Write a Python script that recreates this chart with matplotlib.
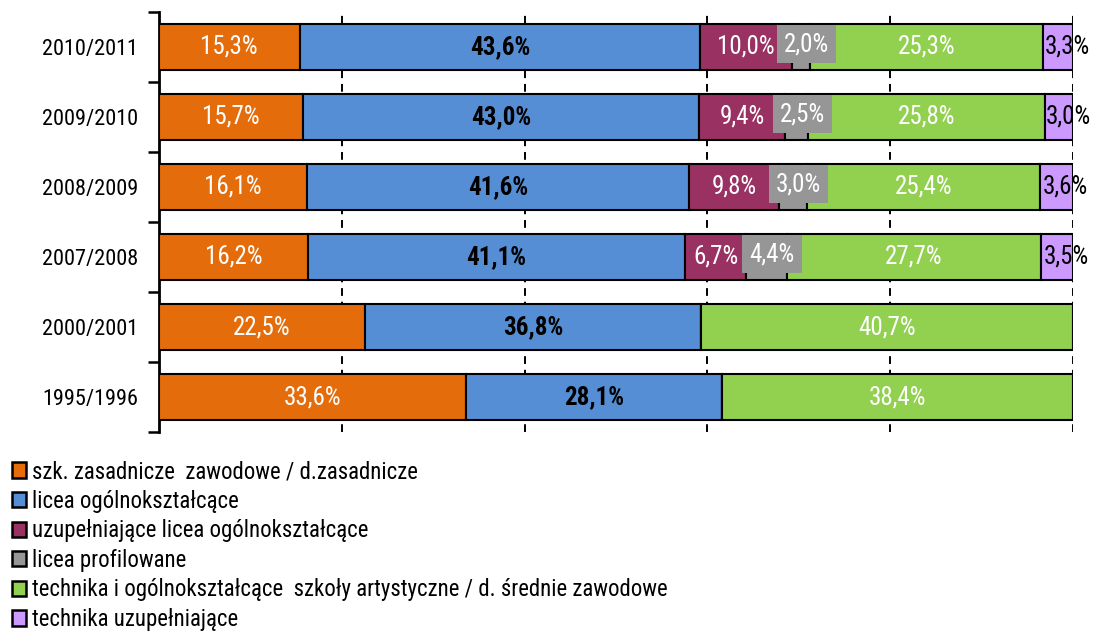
import matplotlib
matplotlib.use("Agg")
import matplotlib.pyplot as plt
from matplotlib import font_manager as fm
from matplotlib.patches import Patch
import numpy as np

years = ["2010/2011", "2009/2010", "2008/2009", "2007/2008", "2000/2001", "1995/1996"]
series_names = [
    "szk. zasadnicze  zawodowe / d.zasadnicze",
    "licea ogólnokształcące",
    "uzupełniające licea ogólnokształcące",
    "licea profilowane",
    "technika i ogólnokształcące  szkoły artystyczne / d. średnie zawodowe",
    "technika uzupełniające",
]
zasadnicze = [15.3, 15.7, 16.1, 16.2, 22.5, 33.6]
licea = [43.6, 43.0, 41.6, 41.1, 36.8, 28.1]
uzup_licea = [10.0, 9.4, 9.8, 6.7, 0.0, 0.0]
profilowane = [2.0, 2.5, 3.0, 4.4, 0.0, 0.0]
technika = [25.3, 25.8, 25.4, 27.7, 40.7, 38.4]
tech_uzup = [3.3, 3.0, 3.6, 3.5, 0.0, 0.0]

colors = ["#E46C0A", "#558ED5", "#9A3163", "#969696", "#92D050", "#CC99FF"]
label_colors = ["white", "black", "white", "white", "white", "black"]

avail = {f.name for f in fm.fontManager.ttflist}
prefs = ["Liberation Sans Narrow", "Arial Narrow", "Roboto Condensed", "Pragati Narrow",
         "Archivo Narrow", "PT Sans Narrow", "IBM Plex Sans Condensed", "Liberation Sans"]
main_font = next((p for p in prefs if p in avail), "DejaVu Sans")
plt.rcParams['font.family'] = [main_font, 'DejaVu Sans']

data = np.array([zasadnicze, licea, uzup_licea, profilowane, technika, tech_uzup])
totals = data.sum(axis=0)
pct = data / totals * 100

fig = plt.figure(figsize=(10.93, 6.34), dpi=100)
ax = fig.add_axes([0.1455, 0.3186, 0.8362, 0.6625])

LBL = 18
y = np.arange(len(years))
left = np.zeros(len(years))
for i in range(len(series_names)):
    ax.barh(y, pct[i], left=left, height=0.67, color=colors[i], edgecolor="black",
            linewidth=1.5, label=series_names[i], zorder=3)
    for j in range(len(years)):
        v = data[i, j]
        if v <= 0:
            continue
        txt = f"{v:.1f}%".replace(".", ",")
        cx = left[j] + pct[i, j] / 2
        if i == 3:
            ax.text(cx + 0.6, y[j] - 0.04, txt, ha="center", va="center", color="white",
                    fontsize=LBL, zorder=5,
                    bbox=dict(boxstyle="square,pad=0.28", facecolor="#969696", edgecolor="none"))
        elif i == 5:
            ax.text(cx + 1.0, y[j], txt, ha="center", va="center", color="black",
                    fontsize=LBL, zorder=5)
        else:
            ax.text(cx, y[j], txt, ha="center", va="center", color=label_colors[i],
                    fontsize=LBL, zorder=5, fontweight="bold" if i == 1 else "normal")
    left += pct[i]

ax.set_xlim(0, 100)
ax.set_ylim(len(years) - 0.5, -0.5)
ax.set_yticks(y)
ax.set_yticklabels(years, fontsize=16)
ax.set_yticks(np.arange(-0.5, len(years), 1.0), minor=True)
ax.tick_params(axis="y", which="major", length=0, pad=15)
ax.tick_params(axis="y", which="minor", length=8, width=1.8, direction="out")
ax.set_xticks([20, 40, 60, 80, 100])
ax.tick_params(axis="x", length=0, labelbottom=False)
ax.xaxis.grid(True, linestyle=(0, (4, 3)), color="black", linewidth=1.4, zorder=0)
for s in ["top", "right", "bottom"]:
    ax.spines[s].set_visible(False)
ax.spines["left"].set_linewidth(2.0)

handles = [Patch(facecolor=colors[i], edgecolor="black", linewidth=1.8) for i in range(6)]
fig.legend(handles, series_names, loc="upper left", bbox_to_anchor=(12 / 1093, 1 - 460 / 634),
           frameon=False, fontsize=16.4, handlelength=0.62, handleheight=0.65,
           handletextpad=0.26, labelspacing=0.29, borderaxespad=0.0, borderpad=0.0)

fig.savefig("out.png", dpi=100)
